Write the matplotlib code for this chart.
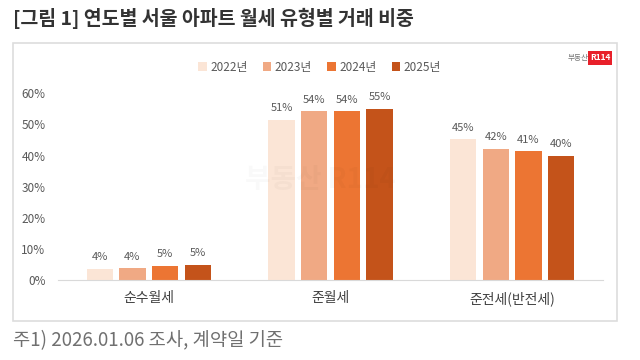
import matplotlib
matplotlib.use('Agg')
import matplotlib.pyplot as plt
from matplotlib.patches import Rectangle
import numpy as np

plt.rcParams['font.family'] = ['Noto Sans CJK KR', 'DejaVu Sans']

categories = ['순수월세', '준월세', '준전세(반전세)']
years = ['2022년', '2023년', '2024년', '2025년']
values = {
    '2022년': [3.5, 51.5, 45.2],
    '2023년': [3.7, 54.2, 42.0],
    '2024년': [4.6, 54.2, 41.3],
    '2025년': [4.9, 55.1, 40.0],
}
labels = {
    '2022년': ['4%', '51%', '45%'],
    '2023년': ['4%', '54%', '42%'],
    '2024년': ['5%', '54%', '41%'],
    '2025년': ['5%', '55%', '40%'],
}
colors = ['#FBE5D6', '#F0A984', '#EC7533', '#C4531A']

fig = plt.figure(figsize=(6.4, 3.6), dpi=100)
fig.patch.set_facecolor('white')

# frame around the chart
fig.patches.append(Rectangle((13/640, 1-321/360), 604/640, 278/360,
                             transform=fig.transFigure, fill=False,
                             edgecolor='#DDDDDD', linewidth=1.2))

fig.text(13/640, 1-18/360, '[그림 1] 연도별 서울 아파트 월세 유형별 거래 비중',
         fontsize=14, fontweight='bold', color='#333333', va='center')
fig.text(13/640, 1-341/360, '주1) 2026.01.06 조사, 계약일 기준',
         fontsize=13.5, fontweight='light', color='#707070', va='center')

ax = fig.add_axes([58/640, 1-280/360, 545/640, 186.7/360])
x = np.arange(len(categories)) * 1.0
w = 0.145
step = 0.18
for i, yr in enumerate(years):
    pos = x + (i - 1.5) * step
    bars = ax.bar(pos, values[yr], w, color=colors[i], label=yr)
    for b, lab in zip(bars, labels[yr]):
        ax.text(b.get_x() + b.get_width()/2, b.get_height() + 2.2, lab,
                ha='center', va='bottom', fontsize=8, color='#595959')

ax.set_ylim(0, 60)
ax.set_xlim(-0.5, 2.5)
ax.set_yticks(np.arange(0, 61, 10))
ax.set_yticklabels([f'{v}%' for v in range(0, 61, 10)])
ax.set_xticks(x)
ax.set_xticklabels(categories)
ax.tick_params(axis='y', length=0, labelsize=8.5, labelcolor='#595959', pad=9)
ax.tick_params(axis='x', length=0, labelsize=10, labelcolor='#404040', pad=8)
for s in ['top', 'right', 'left']:
    ax.spines[s].set_visible(False)
ax.spines['bottom'].set_color('#D9D9D9')

ax.legend(loc='center', bbox_to_anchor=(0.48, 1.14), ncol=4, frameon=False,
          fontsize=8.5, handlelength=0.7, handleheight=0.7, columnspacing=1.3,
          handletextpad=0.3, labelcolor='#595959')

# watermark and logo
fig.text(0.5, 1-180/360, '부동산 R114', fontsize=20, color='#000000', alpha=0.025,
         ha='center', va='center', fontweight='bold')
fig.text(589/640, 1-58/360, '부동산', fontsize=5.5, color='#777777', ha='right', va='center')
fig.text(600/640, 1-58/360, 'R114', fontsize=6, color='white', ha='center', va='center',
         fontweight='bold', bbox=dict(boxstyle='square,pad=0.25', fc='#E8202A', ec='none'))

fig.savefig('out.png', dpi=100)
